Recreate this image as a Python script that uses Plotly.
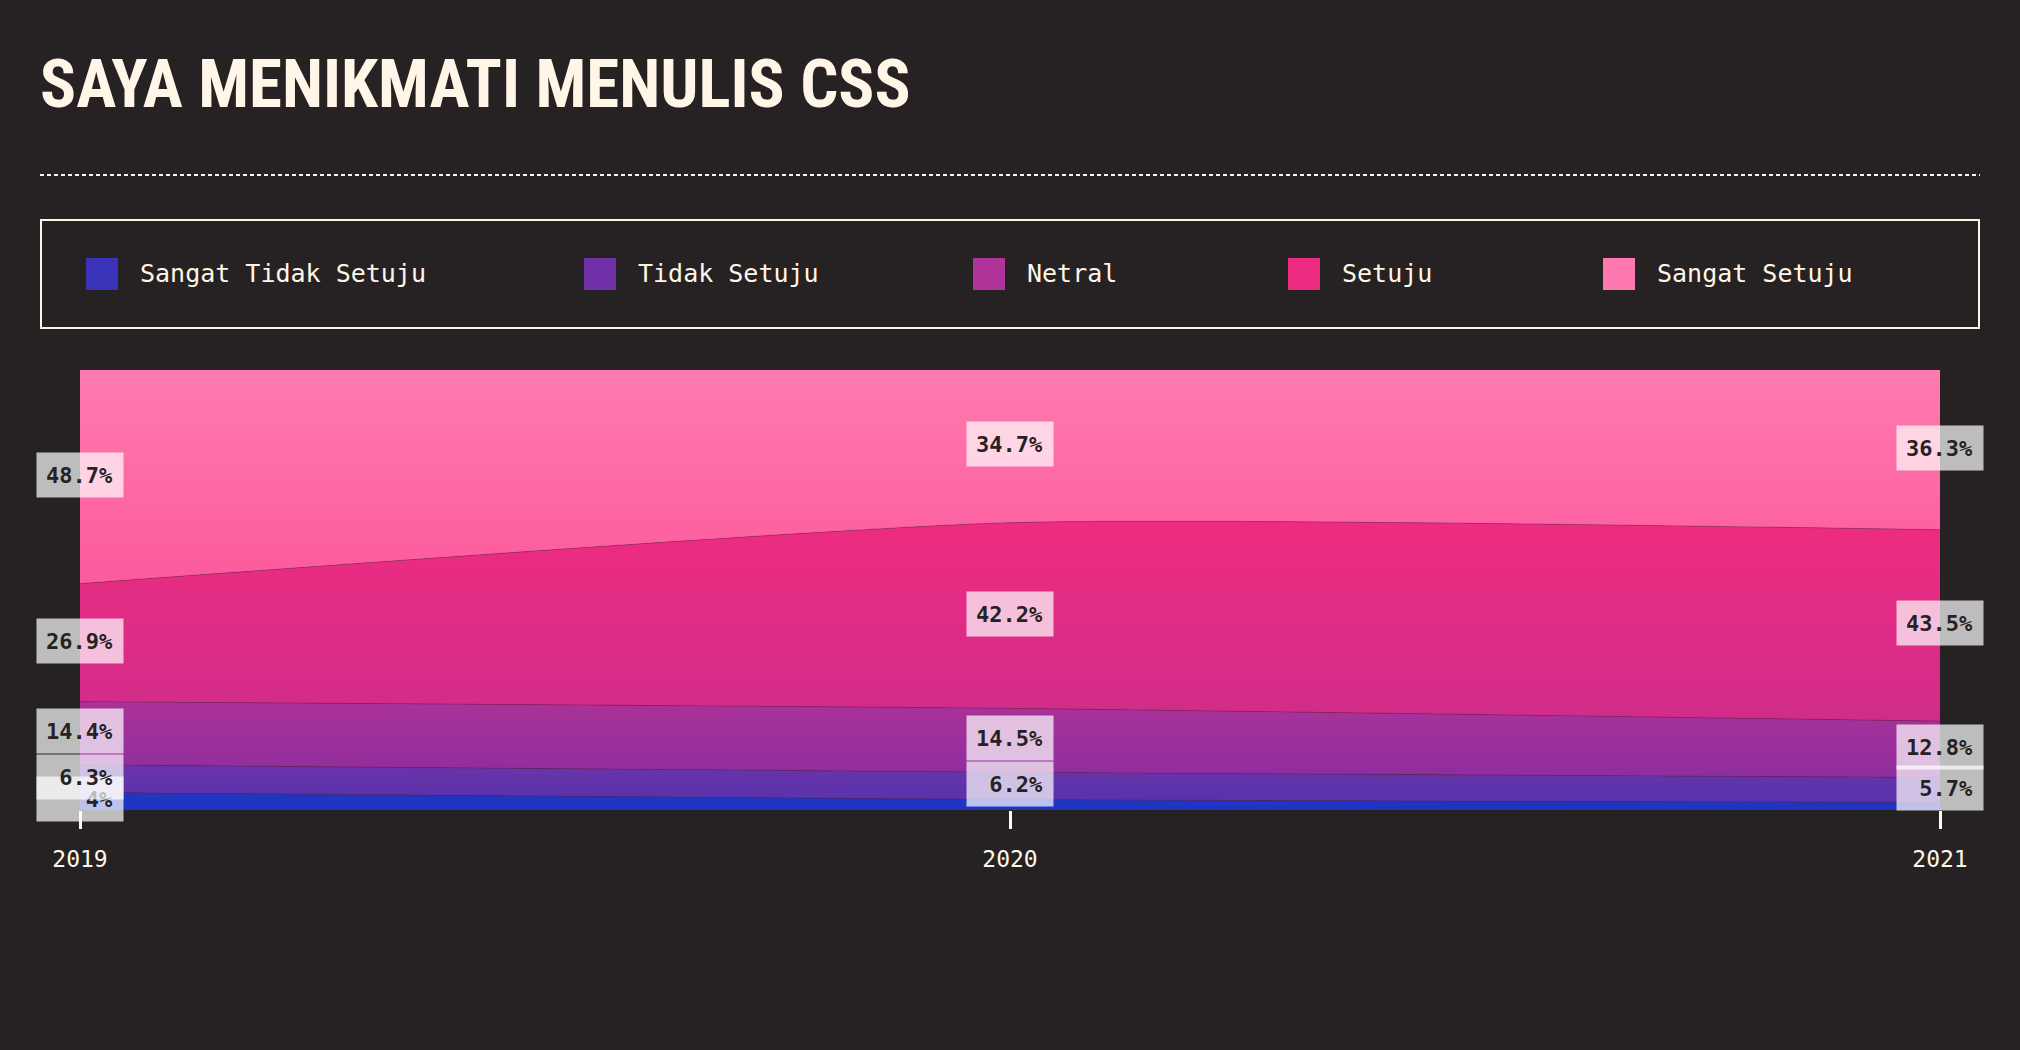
import plotly.graph_objects as go

# ---------------- data ----------------
years = [2019, 2020, 2021]
tick_labels = ["2019", "2020", "2021"]
series_names = ["Sangat Tidak Setuju", "Tidak Setuju", "Netral", "Setuju", "Sangat Setuju"]
sangat_tidak_setuju = [4.0, 2.4, 1.7]
tidak_setuju = [6.3, 6.2, 5.7]
netral = [14.4, 14.5, 12.8]
setuju = [26.9, 42.2, 43.5]
sangat_setuju = [48.7, 34.7, 36.3]

# ---------------- style ----------------
BG = "#262223"
CREAM = "#fff6e8"
DARK = "#262223"
legend_colors = ["#3b33b9", "#7030a8", "#b03399", "#ec2a82", "#ff78b0"]
band_bottom = ["#1e34c2", "#5832ac", "#8e2e9e", "#d02c8a", "#fc5a9c"]
band_top = ["#2236be", "#6a34a8", "#ab3298", "#ee2c80", "#ff7baf"]

W, H = 2020, 1050
ML, MR, MT, MB = 80, 80, 370, 240
PW, PH = W - ML - MR, H - MT - MB


def px(xp):
    return (xp - ML) / PW


def py(yp):
    return (H - MB - yp) / PH


series = [sangat_tidak_setuju, tidak_setuju, netral, setuju, sangat_setuju]
totals = [sum(s[j] for s in series) for j in range(len(years))]

fig = go.Figure()
lower = [0.0] * len(years)
bounds = []
for i, s in enumerate(series):
    upper = [lower[j] + s[j] / totals[j] * 100 for j in range(len(years))]
    bounds.append((lower[:], upper[:]))
    fig.add_trace(go.Scatter(
        x=years, y=upper, name=series_names[i], mode="lines",
        line=dict(width=1 if i < len(series) - 1 else 0, shape="spline", smoothing=0.55,
                  color="rgba(90,20,70,0.35)"),
        fill="tozeroy" if i == 0 else "tonexty",
        fillgradient=dict(type="vertical",
                          colorscale=[[0, band_bottom[i]], [1, band_top[i]]],
                          start=min(lower), stop=max(upper)),
        hoverinfo="skip", showlegend=False,
    ))
    lower = upper

# value labels (bottom series first so upper ones lie on top)
annotations = []
for i, s in enumerate(series):
    lo, up = bounds[i]
    for j, yr in enumerate(years):
        if s[j] < 3:
            continue
        annotations.append(dict(
            x=yr, y=(lo[j] + up[j]) / 2, xref="x", yref="y",
            text=f"<b>{s[j]:g}%</b>", showarrow=False,
            font=dict(family="DejaVu Sans Mono", size=22, color=DARK),
            bgcolor="rgba(255,255,255,0.7)", width=66, height=24, borderpad=10,
            align="right", xanchor="center", yanchor="middle", yshift=2,
        ))

# title
annotations.append(dict(
    x=px(38), y=py(84), xref="paper", yref="paper", xanchor="left", yanchor="middle",
    text="<b>SAYA MENIKMATI MENULIS CSS</b>", showarrow=False,
    font=dict(family="Roboto Condensed, Liberation Sans Narrow, DejaVu Sans Condensed, Roboto",
              size=67, color=CREAM),
))

# legend (manual, to match the spaced-out layout)
legend_x = [86, 584, 973, 1288, 1603]
shapes = [
    dict(type="line", xref="paper", yref="paper", x0=px(40), x1=px(1980), y0=py(175), y1=py(175),
         line=dict(color=CREAM, width=2, dash="4px,3px")),
    dict(type="rect", xref="paper", yref="paper", x0=px(41), x1=px(1979), y0=py(220), y1=py(328),
         line=dict(color=CREAM, width=2), fillcolor="rgba(0,0,0,0)"),
]
for i, name in enumerate(series_names):
    shapes.append(dict(type="rect", xref="paper", yref="paper",
                       x0=px(legend_x[i]), x1=px(legend_x[i] + 32), y0=py(258), y1=py(290),
                       line=dict(width=0), fillcolor=legend_colors[i]))
    annotations.append(dict(
        x=px(legend_x[i] + 52), y=py(273), xref="paper", yref="paper",
        xanchor="left", yanchor="middle", text=name, showarrow=False,
        font=dict(family="DejaVu Sans Mono", size=25, color=CREAM),
    ))

fig.update_layout(
    width=W, height=H, margin=dict(l=ML, r=MR, t=MT, b=MB, pad=0),
    paper_bgcolor=BG, plot_bgcolor=BG,
    annotations=annotations, shapes=shapes, showlegend=False,
    xaxis=dict(range=[years[0], years[-1]], tickvals=years, ticktext=tick_labels,
               ticks="outside", ticklen=18, tickwidth=3, tickcolor=CREAM,
               ticklabelstandoff=10,
               tickfont=dict(family="DejaVu Sans Mono", size=23, color=CREAM),
               showgrid=False, zeroline=False, showline=False, fixedrange=True),
    yaxis=dict(range=[0, 100], visible=False, showgrid=False, zeroline=False, fixedrange=True),
)

fig.write_html("out.html", config={"displayModeBar": False})
